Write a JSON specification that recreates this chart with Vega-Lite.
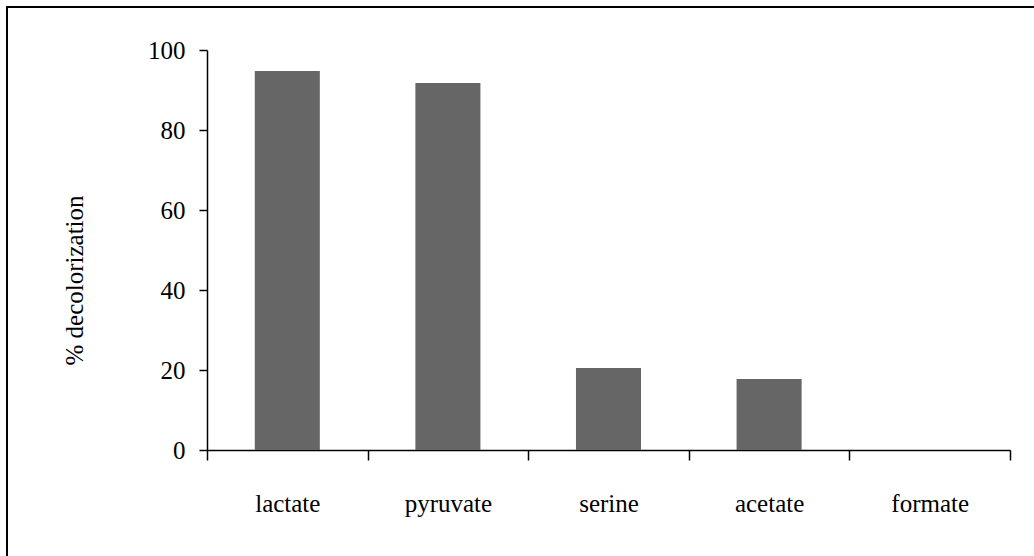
{
  "$schema": "https://vega.github.io/schema/vega-lite/v6.json",
  "width": 1040,
  "height": 560,
  "autosize": "none",
  "padding": {"left": 7, "top": 7, "right": 0, "bottom": 0},
  "background": "white",
  "config": {
    "view": {"stroke": "black", "strokeWidth": 2},
    "font": "Liberation Serif, Times New Roman, serif"
  },
  "data": {
    "values": [
      {"substrate": "lactate", "decolorization": 94.75},
      {"substrate": "pyruvate", "decolorization": 91.75},
      {"substrate": "serine", "decolorization": 20.5},
      {"substrate": "acetate", "decolorization": 17.75},
      {"substrate": "formate", "decolorization": 0}
    ]
  },
  "mark": {"type": "bar", "color": "#666666", "width": {"band": 0.405}},
  "encoding": {
    "x": {
      "field": "substrate",
      "type": "nominal",
      "sort": null,
      "scale": {"range": [200, 1003], "paddingInner": 0, "paddingOuter": 0},
      "axis": {
        "title": null,
        "orient": "bottom",
        "offset": -117,
        "tickBand": "extent",
        "tickSize": 10,
        "tickWidth": 1.5,
        "tickColor": "black",
        "domainColor": "black",
        "domainWidth": 1.5,
        "labelAngle": 0,
        "labelFont": "Liberation Serif, Times New Roman, serif",
        "labelFontSize": 25,
        "labelColor": "black",
        "labelPadding": 31,
        "grid": false
      }
    },
    "y": {
      "field": "decolorization",
      "type": "quantitative",
      "scale": {"domain": [0, 100], "range": [443, 43]},
      "axis": {
        "title": "% decolorization",
        "orient": "left",
        "offset": -200,
        "values": [0, 20, 40, 60, 80, 100],
        "tickSize": 8,
        "tickWidth": 1.5,
        "tickColor": "black",
        "domainColor": "black",
        "domainWidth": 1.5,
        "labelFont": "Liberation Serif, Times New Roman, serif",
        "labelFontSize": 25,
        "labelColor": "black",
        "labelPadding": 14,
        "grid": false,
        "titleFont": "Liberation Serif, Times New Roman, serif",
        "titleFontSize": 25,
        "titleFontWeight": "normal",
        "titleColor": "black",
        "titlePadding": 60,
        "titleY": 273
      }
    }
  }
}
